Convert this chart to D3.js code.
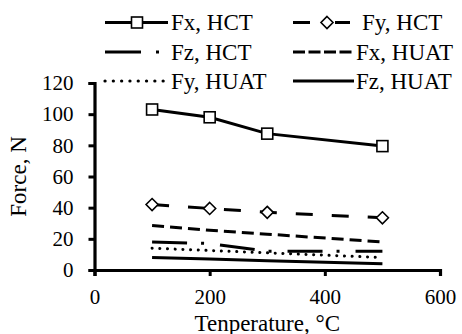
<!DOCTYPE html>
<html>
<head>
<meta charset="utf-8">
<script src="https://cdn.jsdelivr.net/npm/d3@7/dist/d3.min.js"></script>
<style>
  html, body { margin: 0; padding: 0; background: #fff; }
  svg { display: block; }
  svg text { font-family: "Liberation Serif", "Times New Roman", serif; fill: #000; }
</style>
</head>
<body>
<svg id="chart" width="462" height="334"></svg>
<script>
// Cutting force versus temperature for HCT and HUAT tools
const temperatures = [100, 200, 300, 500];
const fxHCT  = [103, 98, 87.5, 79.5];
const fyHCT  = [42, 39.5, 37, 33.5];
const fzHCT  = [18, 17, 12, 12];
const fxHUAT = [28.5, 25.5, 23, 18];
const fyHUAT = [14, 12.5, 11, 8];
const fzHUAT = [8, 7, 6, 4];

const xTicks = [0, 200, 400, 600];
const yTicks = [0, 20, 40, 60, 80, 100, 120];

const seriesNames = ["Fx, HCT", "Fy, HCT", "Fz, HCT", "Fx, HUAT", "Fy, HUAT", "Fz, HUAT"];
const seriesValues = [fxHCT, fyHCT, fzHCT, fxHUAT, fyHUAT, fzHUAT];

// line style per series
const styles = [
  { dash: null,          legendDash: null,          marker: "square",  cap: "butt"  },
  { dash: "17,19",       legendDash: "17,25,15,20", marker: "diamond", cap: "butt"  },
  { dash: "35,14,3,16",  legendDash: "36,15,3,20",  marker: null,      cap: "butt"  },
  { dash: "12,6",        legendDash: "12,3.5",      marker: null,      cap: "butt"  },
  { dash: "0.1,7.6",     legendDash: "0.1,8.2",     marker: null,      cap: "round" },
  { dash: null,          legendDash: null,          marker: null,      cap: "butt"  }
];

const svg = d3.select("#chart");

const x = d3.scaleLinear().domain([0, 600]).range([94.5, 440]);
const y = d3.scaleLinear().domain([0, 120]).range([270, 83]);

// axes
const xAxis = d3.axisBottom(x).tickValues(xTicks).tickSize(6).tickPadding(13);
const yAxis = d3.axisLeft(y).tickValues(yTicks).tickSize(6).tickPadding(15);

const gx = svg.append("g").attr("transform", `translate(0,${y(0)})`).call(xAxis);
const gy = svg.append("g").attr("transform", `translate(${x(0)},0)`).call(yAxis);

[gx, gy].forEach(g => {
  g.attr("font-family", null).attr("font-size", null);
  g.select(".domain").attr("stroke", "#000").attr("stroke-width", 3.2);
  g.selectAll(".tick line").attr("stroke", "#000").attr("stroke-width", 3);
  g.selectAll(".tick text")
    .style("font-family", "'Liberation Serif', 'Times New Roman', serif")
    .style("font-size", "21px").attr("fill", "#000");
});

// axis titles
svg.append("text")
  .attr("x", (x(0) + x(600)) / 2).attr("y", 323)
  .attr("text-anchor", "middle").attr("dominant-baseline", "central")
  .style("font-size", "23px")
  .text("Tenperature, °C");

svg.append("text")
  .attr("transform", `translate(18,${(y(0) + y(120)) / 2}) rotate(-90)`)
  .attr("text-anchor", "middle").attr("dominant-baseline", "central")
  .style("font-size", "23px")
  .text("Force, N");

// series lines
const line = d3.line().x(d => x(d.t)).y(d => y(d.v));

function drawMarker(g, type, cx, cy) {
  if (type === "square") {
    g.append("rect").attr("x", cx - 5.5).attr("y", cy - 5.5)
      .attr("width", 11).attr("height", 11)
      .attr("fill", "#fff").attr("stroke", "#000").attr("stroke-width", 1.6);
  } else if (type === "diamond") {
    const r = 6;
    g.append("path")
      .attr("d", `M${cx},${cy - r}L${cx + r},${cy}L${cx},${cy + r}L${cx - r},${cy}Z`)
      .attr("fill", "#fff").attr("stroke", "#000").attr("stroke-width", 1.6);
  }
}

const plot = svg.append("g");
// draw lower series first so the upper ones sit on top
for (let i = seriesValues.length - 1; i >= 0; i--) {
  const pts = temperatures.map((t, j) => ({ t, v: seriesValues[i][j] }));
  const s = styles[i];
  const p = plot.append("path")
    .attr("d", line(pts))
    .attr("fill", "none").attr("stroke", "#000")
    .attr("stroke-width", 3).attr("stroke-linecap", s.cap);
  if (s.dash) p.attr("stroke-dasharray", s.dash);
  if (s.marker) pts.forEach(d => drawMarker(plot, s.marker, x(d.t), y(d.v)));
}

// legend: two columns, three rows
const legendCols = [105, 293];
const legendRows = [22.5, 52, 81];
const sampleLen = [63, 61];
const textGap = [3, 2];
seriesNames.forEach((name, i) => {
  const col = i % 2, row = Math.floor(i / 2);
  const lx = legendCols[col], ly = legendRows[row];
  const s = styles[i];
  const g = svg.append("g");
  const l = g.append("line")
    .attr("x1", lx).attr("x2", lx + sampleLen[col]).attr("y1", ly).attr("y2", ly)
    .attr("stroke", "#000").attr("stroke-width", 3.2).attr("stroke-linecap", s.cap);
  if (s.legendDash) l.attr("stroke-dasharray", s.legendDash);
  if (s.marker) drawMarker(g, s.marker, lx + (col === 0 ? 32 : 34), ly);
  g.append("text")
    .attr("x", lx + sampleLen[col] + (i === 1 ? 8 : textGap[col])).attr("y", ly)
    .attr("dominant-baseline", "central")
    .style("font-size", "23px")
    .text(name);
});
</script>
</body>
</html>
